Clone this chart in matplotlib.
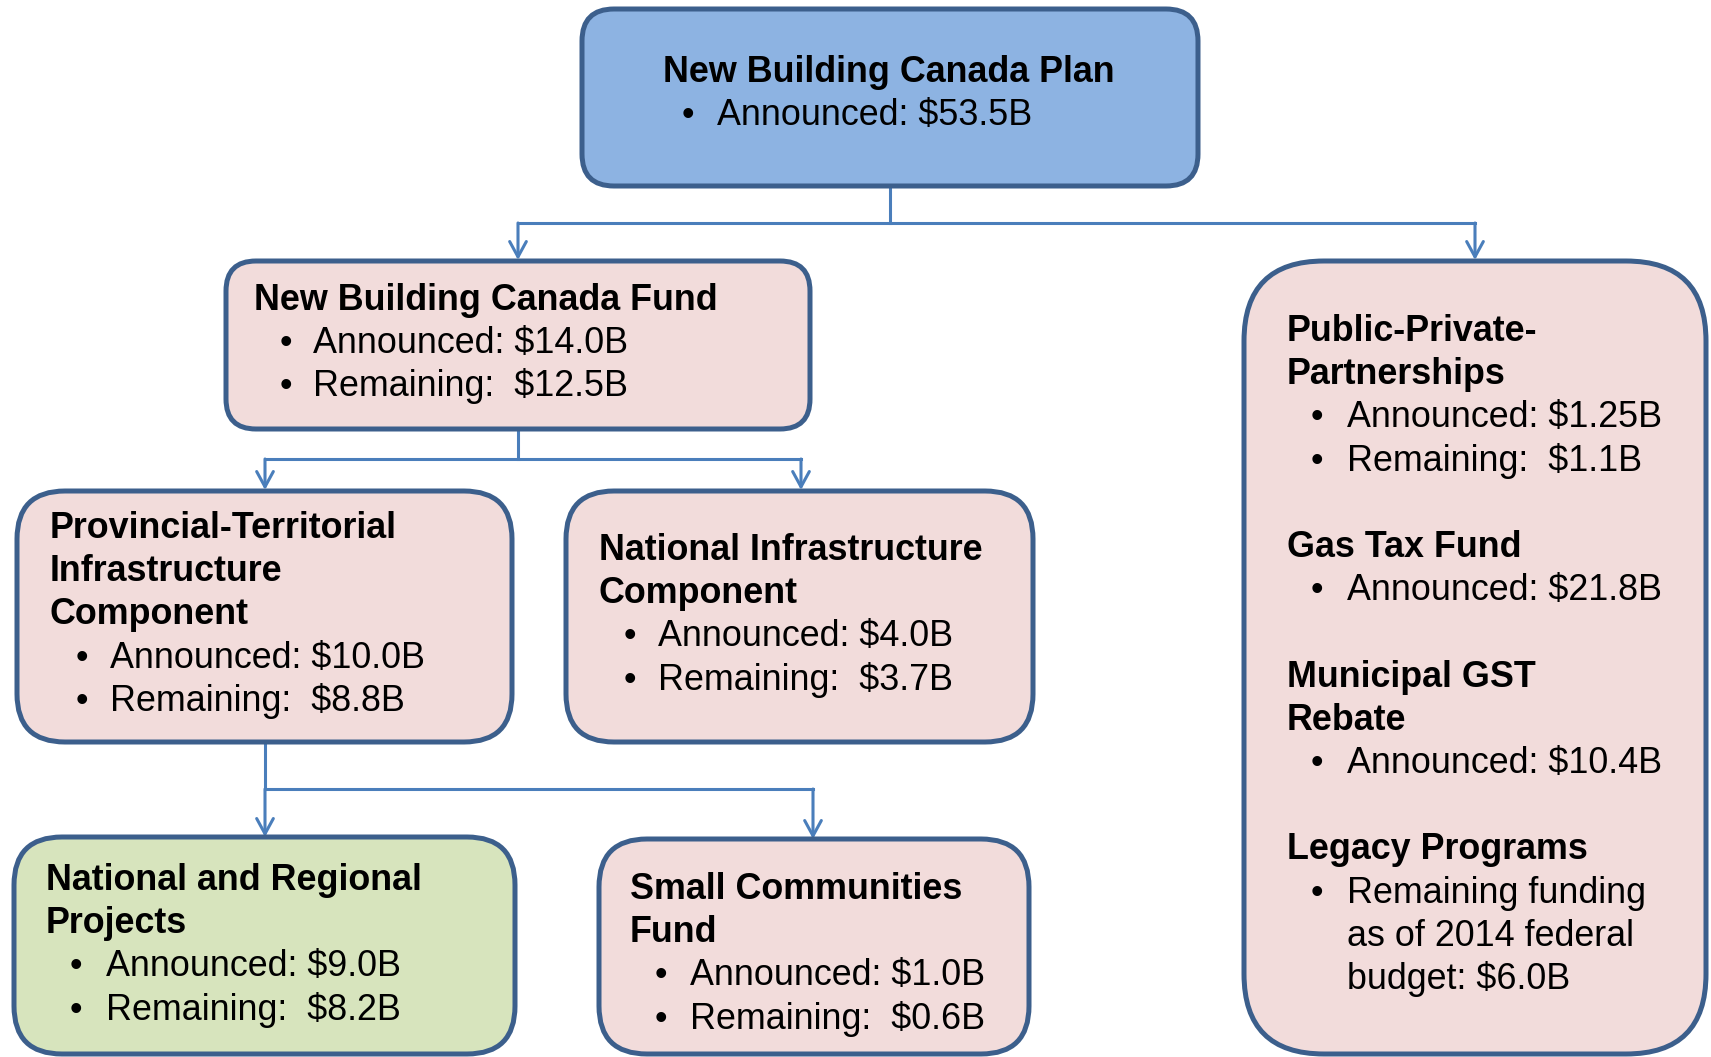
import matplotlib.pyplot as plt
from matplotlib.patches import FancyBboxPatch

plt.rcParams['font.family'] = ['Liberation Sans', 'DejaVu Sans']

# box texts
plan_title = ['New Building Canada Plan']
plan_items = ['Announced: $53.5B']
fund_title = ['New Building Canada Fund']
fund_items = ['Announced: $14.0B', 'Remaining:  $12.5B']
ptic_title = ['Provincial-Territorial', 'Infrastructure', 'Component']
ptic_items = ['Announced: $10.0B', 'Remaining:  $8.8B']
nic_title = ['National Infrastructure', 'Component']
nic_items = ['Announced: $4.0B', 'Remaining:  $3.7B']
nrp_title = ['National and Regional', 'Projects']
nrp_items = ['Announced: $9.0B', 'Remaining:  $8.2B']
scf_title = ['Small Communities', 'Fund']
scf_items = ['Announced: $1.0B', 'Remaining:  $0.6B']
other_sections = [
    (['Public-Private-', 'Partnerships'], ['Announced: $1.25B', 'Remaining:  $1.1B']),
    (['Gas Tax Fund'], ['Announced: $21.8B']),
    (['Municipal GST', 'Rebate'], ['Announced: $10.4B']),
    (['Legacy Programs'], ['Remaining funding\nas of 2014 federal\nbudget: $6.0B']),
]

W, H = 1711, 1057
EDGE = '#3c5f8c'
LINK = '#4a7ebb'
PINK = '#f2dcdb'
BLUE = '#8db3e2'
GREEN = '#d7e4bd'
FS = 25.8
STEP = 43.2

fig = plt.figure(figsize=(W / 100, H / 100), dpi=100)
ax = fig.add_axes([0, 0, 1, 1])
ax.set_xlim(0, W)
ax.set_ylim(H, 0)
ax.axis('off')


def box(x0, y0, x1, y1, fill, r):
    p = FancyBboxPatch((x0, y0), x1 - x0, y1 - y0,
                       boxstyle=f'round,pad=0,rounding_size={r}',
                       fc=fill, ec=EDGE, lw=3.6, zorder=2)
    ax.add_patch(p)


def write(y, title, items, tx, bx, ix, center=False):
    for t in title:
        ax.text(tx, y, t, fontsize=FS, fontweight='bold', va='baseline',
                ha='center' if center else 'left', zorder=3)
        y += STEP
    for it in items:
        ax.text(bx, y, '\u2022', fontsize=FS, va='baseline', ha='center', zorder=3)
        for ln in it.split('\n'):
            ax.text(ix, y, ln, fontsize=FS, va='baseline', ha='left', zorder=3)
            y += STEP
    return y


def link(x, y0, y1):
    ax.plot([x, x], [y0, y1], color=LINK, lw=2.2, zorder=1)


def arrow(x, y0, y1):
    ax.annotate('', xy=(x, y1), xytext=(x, y0),
                arrowprops=dict(arrowstyle='->,head_length=0.55,head_width=0.3',
                                color=LINK, lw=2.2, shrinkA=0, shrinkB=0,
                                mutation_scale=20), zorder=1)


def hline(x0, x1, y):
    ax.plot([x0, x1], [y, y], color=LINK, lw=2.2, zorder=1)


# connectors
link(890, 186, 223)
hline(518, 1475, 223)
arrow(518, 223, 260)
arrow(1475, 223, 260)
link(518, 429, 459)
hline(265, 801, 459)
arrow(265, 459, 490)
arrow(801, 459, 490)
link(265, 742, 789)
hline(265, 813, 789)
arrow(265, 789, 837)
arrow(813, 789, 839)

# boxes
box(582, 9, 1198, 186, BLUE, 32)
write(82, plan_title, plan_items, 889, 688, 717, center=True)

box(226, 261, 810, 429, PINK, 30)
write(310, fund_title, fund_items, 254, 286, 313)

box(17, 491, 512, 742, PINK, 48)
write(538, ptic_title, ptic_items, 50, 82, 110)

box(566, 491, 1033, 742, PINK, 48)
write(560, nic_title, nic_items, 599, 630, 658)

box(14, 837, 515, 1054, GREEN, 48)
write(890, nrp_title, nrp_items, 46, 76, 106)

box(599, 839, 1029, 1054, PINK, 48)
write(899, scf_title, scf_items, 630, 661, 690)

box(1244, 261, 1706, 1054, PINK, 80)
y = 341
for title, items in other_sections:
    y = write(y, title, items, 1287, 1317, 1347) + STEP

fig.savefig('out.png', dpi=100, facecolor='white')
